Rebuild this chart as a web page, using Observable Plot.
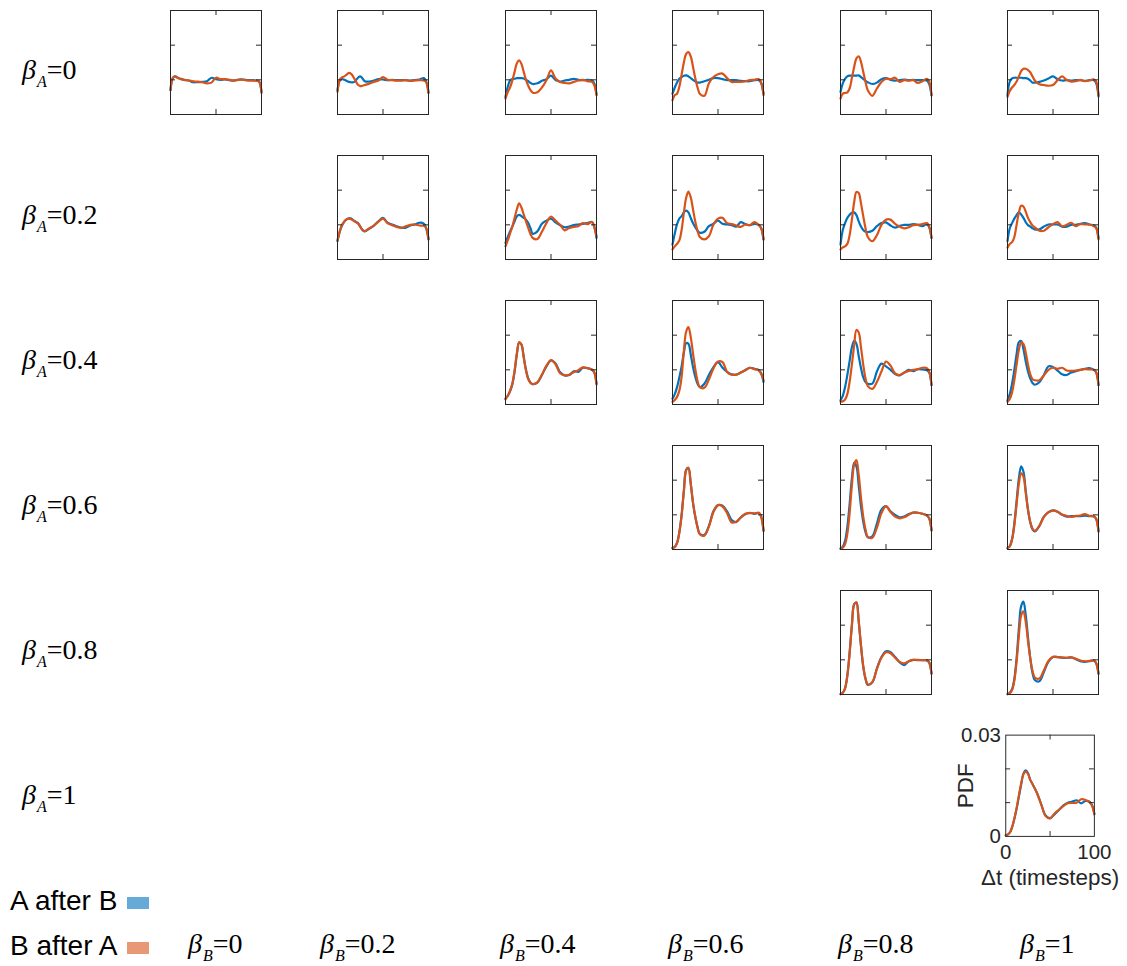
<!DOCTYPE html>
<html><head><meta charset="utf-8">
<script src="https://cdn.jsdelivr.net/npm/d3@7"></script>
<script src="https://cdn.jsdelivr.net/npm/@observablehq/plot@0.6"></script>
<style>
body{margin:0;background:#fff}
#root{position:relative;width:1127px;height:966px;overflow:hidden;background:#fff}
.pan{position:absolute}
.pan svg{background:none !important;overflow:visible}
.beta{position:absolute;font-family:"Liberation Serif","Times New Roman",serif;font-size:28px;line-height:28px;height:28px;white-space:nowrap;color:#000}
.beta i{font-style:italic}
.beta .s{font-size:16px;font-style:italic;position:relative;top:8px;margin-left:1px}
.leg{position:absolute;font-family:"Liberation Sans",Arial,sans-serif;font-size:28px;line-height:30px;color:#000;white-space:nowrap}
.sw{position:absolute;width:22px;height:12px}
</style></head><body><div id="root"></div>
<script>
// ---- data (PDF values in units of 1e-3) ----
const dt = [0,2.5,5,7.5,10,12.5,15,17.5,20,22.5,25,27.5,30,35,40,45,50,55,60,65,70,75,80,85,90,95,97.5,100];
const betaVals = ["0","0.2","0.4","0.6","0.8","1"];
const seriesNames = ["A after B","B after A"];

const AB_a0_b0 = [7.0,10.5,11.0,10.7,10.4,10.2,10.0,9.9,9.8,9.5,9.3,9.3,9.3,9.4,9.6,10.6,10.2,10.0,10.1,9.9,9.8,10.1,10.1,9.9,9.9,9.8,9.5,6.5];
const BA_a0_b0 = [7.0,10.6,11.0,10.6,10.3,10.1,10.0,9.9,9.8,9.7,9.6,9.5,9.5,9.3,9.0,9.2,10.6,10.2,10.2,10.0,9.8,10.0,10.0,9.8,9.8,9.7,9.4,6.2];
const AB_a0_b2 = [7.0,9.8,10.2,10.0,9.7,9.4,9.3,9.3,9.8,10.6,11.0,10.4,9.6,9.5,9.8,10.2,10.1,9.9,10.0,9.9,9.9,9.9,9.8,9.9,10.1,10.5,9.5,6.3];
const BA_a0_b2 = [6.5,10.0,10.7,11.0,11.5,12.0,11.7,10.8,9.6,8.6,8.2,8.3,8.5,8.9,9.4,9.8,10.8,10.0,9.9,9.8,9.8,9.9,9.7,9.8,9.9,9.8,9.3,6.2];
const AB_a0_b4 = [5.1,8.0,9.8,10.2,10.3,10.5,10.5,10.5,10.4,10.0,9.6,9.1,8.8,9.0,9.7,10.2,11.2,9.9,9.5,9.8,10.0,10.3,10.0,9.9,10.0,9.8,9.0,5.8];
const BA_a0_b4 = [4.6,6.5,7.8,9.8,12.3,14.8,15.6,14.6,12.3,10.0,8.3,7.0,6.3,6.4,7.8,9.9,12.7,10.4,9.4,9.1,9.0,9.4,9.8,10.0,9.6,9.4,8.5,5.6];
const AB_a0_b6 = [6.0,7.8,9.2,10.3,10.8,11.2,11.3,11.0,10.5,10.0,9.6,9.2,9.2,9.6,10.0,10.5,10.5,10.2,9.9,9.9,9.9,9.7,9.6,9.6,9.9,9.9,9.0,6.0];
const BA_a0_b6 = [4.1,5.6,6.0,8.0,11.5,15.0,17.5,18.0,16.8,13.8,10.5,7.8,6.0,5.4,9.0,10.8,11.6,11.8,10.5,9.4,9.4,9.4,9.6,9.9,10.0,10.2,9.2,5.6];
const AB_a0_b8 = [6.5,9.0,10.3,11.0,11.2,11.2,11.2,11.2,11.3,10.8,10.3,9.7,9.3,8.8,9.2,10.2,10.5,10.0,9.8,9.9,10.1,9.9,10.0,9.9,9.9,9.8,8.8,5.5];
const BA_a0_b8 = [4.6,6.0,6.2,6.4,7.5,10.5,13.7,16.2,16.8,15.2,12.3,9.4,7.0,5.4,7.5,9.4,10.3,10.2,10.6,9.4,9.9,9.8,9.9,9.1,9.6,10.3,9.5,5.5];
const AB_a0_b10 = [5.6,9.5,10.4,10.6,10.6,10.6,10.6,10.5,10.5,10.3,9.8,9.2,9.2,9.4,9.8,10.4,11.0,10.2,9.8,9.9,9.8,9.9,9.9,9.7,9.9,9.9,9.0,5.2];
const BA_a0_b10 = [5.1,6.8,7.8,8.5,9.5,11.0,12.5,13.2,13.2,12.8,12.2,11.0,9.8,8.7,8.5,8.3,8.5,9.9,11.0,10.0,9.5,9.6,10.0,9.6,9.8,10.1,9.5,5.6];

const AB_a2_b2 = [5.3,8.0,9.8,10.9,11.6,11.9,11.8,11.3,10.9,10.5,9.5,8.5,8.1,8.9,9.8,11.0,12.0,10.6,10.1,9.6,9.2,9.2,9.8,10.1,10.6,10.3,9.0,5.8];
const BA_a2_b2 = [5.5,8.2,10.0,11.0,11.6,11.8,11.6,11.2,10.8,10.4,9.5,8.5,8.2,9.0,9.8,10.9,11.8,10.5,9.9,9.4,9.1,9.6,10.0,10.1,9.8,9.7,9.0,5.8];
const AB_a2_b4 = [4.8,6.5,8.1,9.5,11.0,12.5,12.9,12.5,12.0,11.5,10.5,9.0,7.4,8.1,10.3,11.2,11.8,10.7,9.9,9.3,9.5,9.9,10.1,10.3,10.5,10.8,9.5,6.2];
const BA_a2_b4 = [3.8,5.5,7.5,9.5,12.0,14.5,16.2,15.0,13.0,11.0,9.1,7.3,6.2,5.9,8.0,10.5,12.4,11.2,10.0,8.4,9.1,9.4,9.6,10.5,10.2,10.8,9.5,6.7];
const AB_a2_b6 = [4.3,7.5,10.2,11.8,12.5,13.6,14.1,13.6,12.0,10.5,9.3,8.3,7.7,8.0,9.6,10.3,11.2,10.3,10.1,9.9,9.5,10.8,10.2,9.9,10.3,9.9,9.0,5.8];
const BA_a2_b6 = [2.9,3.8,4.5,5.5,8.5,13.5,17.8,19.6,18.0,14.5,11.0,8.3,6.5,5.8,6.7,10.1,11.8,12.0,10.5,10.2,9.8,9.4,10.1,9.9,10.8,9.9,9.0,5.8];
const AB_a2_b8 = [4.3,8.5,10.5,12.0,12.9,13.5,13.6,12.8,11.0,9.5,8.5,8.0,7.9,8.3,9.6,10.5,10.7,9.8,9.2,9.7,10.0,10.0,10.2,10.0,9.6,10.2,9.3,6.2];
const BA_a2_b8 = [2.9,3.5,3.8,4.5,7.0,11.5,16.5,19.5,19.2,16.2,12.5,9.0,6.5,5.3,7.0,10.0,11.5,11.5,10.3,9.5,9.0,9.3,9.9,10.0,10.2,10.5,9.5,6.2];
const AB_a2_b10 = [5.3,9.0,10.5,11.8,12.8,13.6,13.0,12.0,10.8,9.9,9.5,9.0,8.7,8.7,9.5,10.1,10.1,10.1,9.5,9.5,10.0,10.0,10.3,10.5,10.1,9.8,9.2,6.2];
const BA_a2_b10 = [3.4,4.5,5.0,6.5,10.0,13.5,15.5,15.3,13.8,12.0,10.8,9.8,9.3,8.3,8.3,9.3,10.2,10.8,9.6,10.0,10.6,9.6,10.2,10.1,10.1,9.6,9.0,5.8];

const AB_a4_b4 = [1.7,2.5,3.8,5.8,9.5,14.5,17.8,17.3,13.8,10.0,7.5,6.3,5.9,6.3,8.5,11.0,12.7,11.8,9.3,8.4,8.5,9.6,9.4,10.6,10.5,10.0,9.3,6.0];
const BA_a4_b4 = [1.5,2.5,4.0,6.0,9.8,14.8,18.0,17.3,13.6,9.8,7.3,6.2,5.9,6.4,8.6,11.2,12.8,11.6,9.0,8.4,8.6,9.3,9.9,10.7,10.5,10.1,9.3,5.8];
const AB_a4_b6 = [1.7,3.0,5.0,7.8,11.0,15.0,17.7,17.5,14.5,10.8,8.0,6.0,5.0,6.0,8.5,10.8,12.2,10.6,9.4,8.7,8.6,9.2,9.9,10.6,10.3,9.9,9.0,6.5];
const BA_a4_b6 = [0.8,1.3,2.2,4.0,8.0,15.5,21.0,22.3,19.5,14.8,10.3,6.8,5.0,4.8,7.2,10.4,12.4,12.2,9.4,8.6,8.6,9.2,9.9,10.6,10.2,9.8,8.8,7.0];
const AB_a4_b8 = [1.2,2.5,5.0,8.5,12.5,16.5,18.4,17.5,14.0,10.5,7.8,6.5,6.0,6.0,9.5,11.8,11.0,10.0,8.8,8.4,9.2,10.0,9.6,10.2,10.1,9.9,9.2,5.6];
const BA_a4_b8 = [0.8,0.9,1.4,3.0,6.5,11.5,17.0,21.5,20.8,16.5,11.5,7.5,5.3,4.5,6.5,9.5,12.4,11.2,9.0,8.5,9.2,9.7,10.0,10.2,10.6,10.5,9.5,5.6];
const AB_a4_b10 = [1.2,3.0,6.0,10.0,14.5,18.0,18.3,16.0,12.5,9.5,7.5,6.2,5.7,6.4,8.5,11.0,10.8,9.8,8.7,8.5,9.2,9.6,10.0,10.3,10.5,10.0,9.2,5.6];
const BA_a4_b10 = [0.8,1.6,3.5,7.0,11.5,15.8,17.9,17.5,15.0,11.5,8.7,7.3,7.0,7.0,8.4,10.0,10.6,10.3,10.6,9.8,9.7,9.8,10.0,10.2,10.1,10.0,9.3,5.6];

const AB_a6_b6 = [0.5,0.8,2.0,5.0,10.0,17.0,23.0,23.5,19.0,13.5,9.5,6.5,4.5,4.2,6.8,11.0,12.8,12.6,11.0,8.5,7.9,9.3,10.2,10.6,10.3,10.5,9.5,5.5];
const BA_a6_b6 = [0.4,0.7,1.8,4.8,9.8,16.8,22.8,23.6,19.2,13.6,9.5,6.4,4.4,4.0,6.6,10.8,12.8,12.4,10.5,7.8,8.0,9.2,10.3,10.5,10.4,10.6,9.4,5.3];
const AB_a6_b8 = [0.3,0.8,2.5,6.5,13.0,20.5,25.0,24.0,18.5,12.5,8.0,5.0,3.5,3.8,7.5,11.5,12.5,11.0,10.0,9.3,9.5,10.2,10.6,10.6,10.3,9.8,9.0,5.5];
const BA_a6_b8 = [0.2,0.5,1.5,4.5,10.5,18.5,24.5,25.8,21.5,15.0,9.5,5.8,3.6,3.4,6.3,10.5,12.5,10.8,9.5,9.0,9.3,10.0,10.7,10.6,10.3,9.8,9.0,5.5];
const AB_a6_b10 = [0.4,1.0,3.0,7.5,14.0,20.5,24.0,22.5,17.0,11.5,7.8,5.8,5.2,6.8,9.5,10.8,11.3,10.9,10.0,9.5,9.6,9.6,9.6,9.8,9.6,9.5,8.8,5.2];
const BA_a6_b10 = [0.4,0.9,2.8,7.0,13.0,19.0,22.0,21.0,16.5,11.5,8.0,6.0,5.4,6.8,9.4,10.7,11.2,10.9,10.1,9.7,9.4,9.7,9.8,10.2,9.7,9.6,8.8,5.2];

const AB_a8_b8 = [0.1,0.5,1.8,5.5,12.0,20.0,26.0,26.5,21.0,14.0,8.0,4.5,2.8,3.5,7.5,10.8,12.5,12.2,10.8,9.3,8.5,9.6,10.0,9.9,9.9,9.8,9.2,6.0];
const BA_a8_b8 = [0.1,0.5,1.7,5.3,11.8,19.8,26.0,26.6,21.2,14.2,8.2,4.6,2.9,3.6,7.4,10.6,12.2,11.9,10.6,9.4,9.0,9.6,10.0,10.0,9.9,9.9,9.2,6.0];
const AB_a8_b10 = [0.1,0.5,1.5,4.5,10.5,19.0,25.5,26.8,23.0,16.5,10.5,6.2,4.2,3.8,6.5,9.5,10.8,10.8,10.6,10.6,10.7,10.2,9.6,9.4,9.6,9.8,9.0,6.0];
const BA_a8_b10 = [0.1,0.4,1.3,4.0,9.5,17.0,22.8,24.0,21.0,15.5,10.5,6.8,4.9,4.6,7.0,9.7,10.9,10.8,10.7,10.6,10.7,10.3,9.8,9.6,9.7,9.8,9.0,6.0];

const AB_a10_b10 = [0.3,0.6,1.3,3.0,5.5,8.5,12.0,15.5,18.6,19.6,18.8,16.8,15.6,13.0,9.5,6.2,5.4,6.5,7.8,9.2,10.0,10.3,10.7,9.8,10.5,10.2,9.2,6.7];
const BA_a10_b10 = [0.3,0.6,1.3,3.0,5.6,8.8,12.5,15.8,18.5,19.2,18.6,16.8,15.6,13.0,9.5,6.0,5.3,6.8,7.9,9.0,9.8,9.9,10.0,11.0,10.8,10.0,9.0,6.5];

const panels = [
  {a:0,b:0,AB:AB_a0_b0,BA:BA_a0_b0},{a:0,b:1,AB:AB_a0_b2,BA:BA_a0_b2},{a:0,b:2,AB:AB_a0_b4,BA:BA_a0_b4},
  {a:0,b:3,AB:AB_a0_b6,BA:BA_a0_b6},{a:0,b:4,AB:AB_a0_b8,BA:BA_a0_b8},{a:0,b:5,AB:AB_a0_b10,BA:BA_a0_b10},
  {a:1,b:1,AB:AB_a2_b2,BA:BA_a2_b2},{a:1,b:2,AB:AB_a2_b4,BA:BA_a2_b4},{a:1,b:3,AB:AB_a2_b6,BA:BA_a2_b6},
  {a:1,b:4,AB:AB_a2_b8,BA:BA_a2_b8},{a:1,b:5,AB:AB_a2_b10,BA:BA_a2_b10},
  {a:2,b:2,AB:AB_a4_b4,BA:BA_a4_b4},{a:2,b:3,AB:AB_a4_b6,BA:BA_a4_b6},{a:2,b:4,AB:AB_a4_b8,BA:BA_a4_b8},{a:2,b:5,AB:AB_a4_b10,BA:BA_a4_b10},
  {a:3,b:3,AB:AB_a6_b6,BA:BA_a6_b6},{a:3,b:4,AB:AB_a6_b8,BA:BA_a6_b8},{a:3,b:5,AB:AB_a6_b10,BA:BA_a6_b10},
  {a:4,b:4,AB:AB_a8_b8,BA:BA_a8_b8},{a:4,b:5,AB:AB_a8_b10,BA:BA_a8_b10},
  {a:5,b:5,AB:AB_a10_b10,BA:BA_a10_b10}
];

// ---- layout / style ----
const COL0 = 170, COLSTEP = 167.4, ROW0 = 10, ROWSTEP = 145, PW = 91, PH = 104, TICK = 5;
const BLUE = "#0072BD", ORANGE = "#D95319", AXC = "#262626";
const root = document.getElementById("root");

panels.forEach(p => {
  const last = p.a === 5 && p.b === 5;
  const m = last ? {t:14, r:34, b:62, l:66} : {t:4, r:4, b:4, l:4};
  const rows = vals => dt.map((t, i) => ({t, v: vals[i] / 1000}));
  const marks = [
    Plot.line(rows(p.AB), {x:"t", y:"v", stroke:BLUE, strokeWidth:2.2, curve:"catmull-rom"}),
    Plot.line(rows(p.BA), {x:"t", y:"v", stroke:ORANGE, strokeWidth:2.2, curve:"catmull-rom"}),
    Plot.frame({stroke:AXC, strokeWidth:1}),
    Plot.tickX([50], {insetTop: PH - TICK, stroke:AXC}),
    Plot.tickX([50], {insetBottom: PH - TICK, stroke:AXC}),
    Plot.tickY([0.01, 0.02], {insetRight: PW - TICK, stroke:AXC}),
    Plot.tickY([0.01, 0.02], {insetLeft: PW - TICK, stroke:AXC})
  ];
  if (last) {
    marks.push(
      Plot.axisX({ticks:[0, 100], tickSize:0, tickPadding:8, label:null, tickFormat:d => String(d)}),
      Plot.axisY({ticks:[0, 0.03], tickSize:0, tickPadding:5, label:null, tickFormat:d => String(d)}),
      Plot.text(["PDF"], {text:d => d, frameAnchor:"left", textAnchor:"middle", lineAnchor:"middle", rotate:-90, dx:-41, fontSize:23, fill:AXC}),
      Plot.text(["Δt (timesteps)"], {text:d => d, frameAnchor:"bottom", textAnchor:"middle", lineAnchor:"middle", dy:43, fontSize:23, fill:AXC})
    );
  }
  const svg = Plot.plot({
    width: PW + m.l + m.r, height: PH + m.t + m.b,
    marginLeft: m.l, marginRight: m.r, marginTop: m.t, marginBottom: m.b,
    x: {domain:[0, 100], axis:null},
    y: {domain:[0, 0.03], axis:null},
    style: {background:"transparent", overflow:"visible", fontFamily:"'Liberation Sans', Arial, sans-serif", fontSize:"21px", color:AXC},
    marks
  });
  const wrap = document.createElement("div");
  wrap.className = "pan";
  wrap.style.left = (Math.round(COL0 + p.b * COLSTEP) - m.l) + "px";
  wrap.style.top = (ROW0 + p.a * ROWSTEP - m.t) + "px";
  wrap.appendChild(svg);
  root.appendChild(wrap);
});

// row labels (beta_A)
betaVals.forEach((v, r) => {
  const d = document.createElement("div");
  d.className = "beta";
  d.style.left = "22px";
  d.style.top = (ROW0 + r * ROWSTEP + 52 + 17 - 23) + "px";
  d.innerHTML = `<i>β</i><span class="s">A</span>=${v}`;
  root.appendChild(d);
});
// column labels (beta_B)
const colLabelLeft = [188, 320, 500, 668, 838, 1020];
betaVals.forEach((v, c) => {
  const d = document.createElement("div");
  d.className = "beta";
  d.style.left = colLabelLeft[c] + "px";
  d.style.top = (953 - 23) + "px";
  d.innerHTML = `<i>β</i><span class="s">B</span>=${v}`;
  root.appendChild(d);
});
// legend
[[seriesNames[0], "#66AAD7", 886, 897], [seriesNames[1], "#E89875", 931, 942]].forEach(([name, col, ty, sy]) => {
  const t = document.createElement("div");
  t.className = "leg"; t.style.left = "10px"; t.style.top = ty + "px"; t.textContent = name;
  root.appendChild(t);
  const s = document.createElement("div");
  s.className = "sw"; s.style.left = "127px"; s.style.top = sy + "px"; s.style.background = col;
  root.appendChild(s);
});
</script></body></html>
